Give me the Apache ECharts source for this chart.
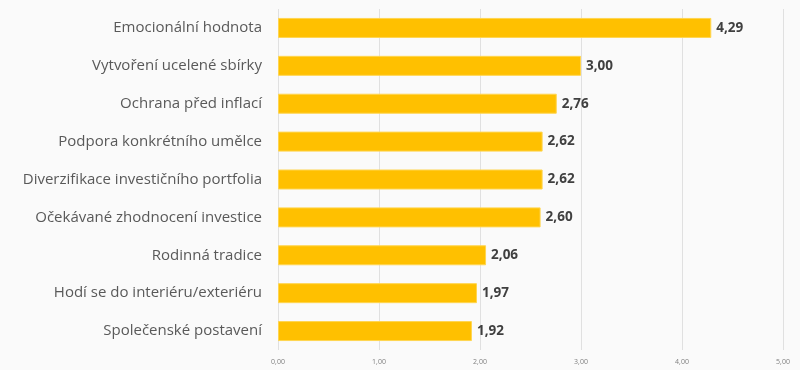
<!DOCTYPE html>
<html><head><meta charset="utf-8">
<script src="https://cdn.jsdelivr.net/npm/echarts@6/dist/echarts.min.js"></script>
<style>html,body{margin:0;padding:0;background:#fafafa;}#c{width:800px;height:370px;}</style>
</head><body><div id="c"></div>
<script>
const categories = ["Emocionální hodnota","Vytvoření ucelené sbírky","Ochrana před inflací","Podpora konkrétního umělce","Diverzifikace investičního portfolia","Očekávané zhodnocení investice","Rodinná tradice","Hodí se do interiéru/exteriéru","Společenské postavení"];
const values = [4.29,3.00,2.76,2.62,2.62,2.60,2.06,1.97,1.92];
const tickLabels = ["0,00","1,00","2,00","3,00","4,00","5,00"];

const chart = echarts.init(document.getElementById('c'));
chart.setOption({
  backgroundColor:'#fafafa',
  animation:false,
  grid:{left:278,right:17,top:9,bottom:20},
  xAxis:{type:'value',min:0,max:5,interval:1,
    axisLine:{show:false},axisTick:{show:false},
    splitLine:{lineStyle:{color:'#e0e0e0',width:1}},
    axisLabel:{color:'#7f7f7f',fontSize:7,fontFamily:'Open Sans',margin:8,
      formatter:(v)=>tickLabels[Math.round(v)]}},
  yAxis:{type:'category',data:categories,inverse:true,
    axisLine:{show:false},axisTick:{show:false},
    axisLabel:{color:'#595959',fontSize:15,fontFamily:'Open Sans',margin:16}},
  series:[{type:'bar',data:values,barWidth:20,
    itemStyle:{color:'#FFC000',borderColor:'#FFD54F',borderWidth:1},
    label:{show:true,position:'right',distance:5,color:'#404040',fontWeight:'bold',fontSize:13.5,fontFamily:'Open Sans',
      formatter:(p)=>p.value.toFixed(2).replace('.',',')}}]
});
</script></body></html>
